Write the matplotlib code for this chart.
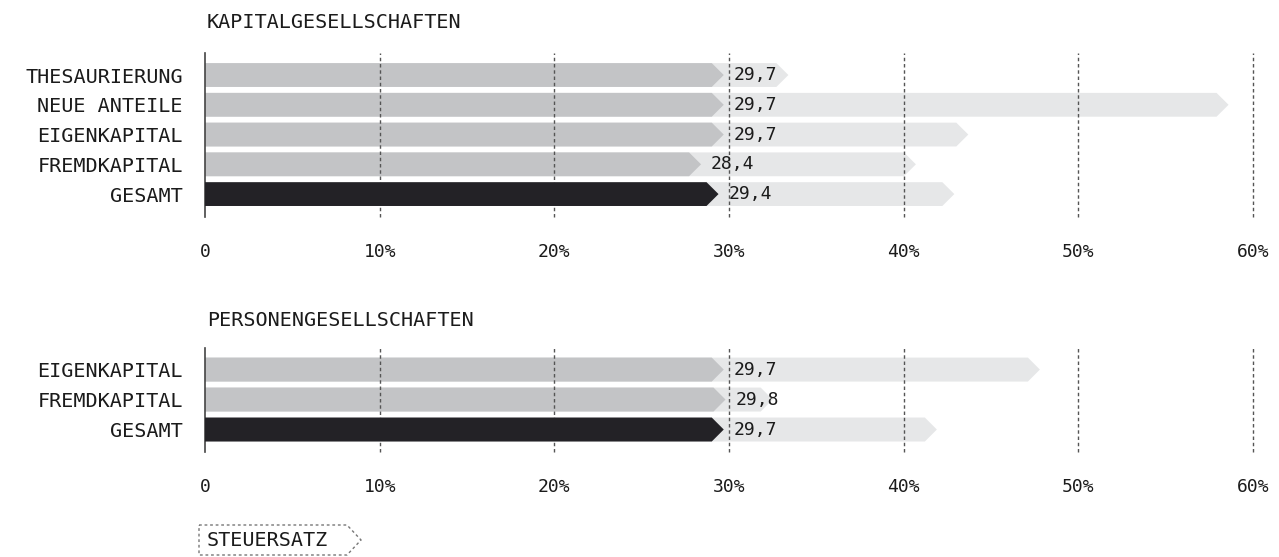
import numpy as np
import matplotlib
matplotlib.use("Agg")
import matplotlib.pyplot as plt
from matplotlib.patches import Polygon

plt.rcParams['font.family'] = ['DejaVu Sans Mono', 'DejaVu Sans']

# Kapitalgesellschaften
k_labels = ["THESAURIERUNG", "NEUE ANTEILE", "EIGENKAPITAL", "FREMDKAPITAL", "GESAMT"]
k_satz = [29.7, 29.7, 29.7, 28.4, 29.4]
k_hinten = [33.4, 58.6, 43.7, 40.7, 42.9]

# Personengesellschaften
p_labels = ["EIGENKAPITAL", "FREMDKAPITAL", "GESAMT"]
p_satz = [29.7, 29.8, 29.7]
p_hinten = [47.8, 32.5, 41.9]

ticks = [0, 10, 20, 30, 40, 50, 60]
tick_labels = ["0", "10%", "20%", "30%", "40%", "50%", "60%"]

W, H = 1279, 557
GRAU = "#c3c4c6"
HELL = "#e6e7e8"
SCHWARZ = "#232226"
TEXT = "#1b1b1b"

fig = plt.figure(figsize=(W / 100, H / 100), dpi=100)


def px_axes(x0, x1, ytop, ybot):
    return fig.add_axes([x0 / W, 1 - ybot / H, (x1 - x0) / W, (ybot - ytop) / H])


def pfeil(ax, y, wert, farbe, z, h=0.4):
    # Balken mit Pfeilspitze, Spitze liegt auf dem Wert
    spitze = 12 / 17.47
    pts = [(0, y - h), (wert - spitze, y - h), (wert, y), (wert - spitze, y + h), (0, y + h)]
    ax.add_patch(Polygon(pts, closed=True, facecolor=farbe, edgecolor="none", zorder=z))


def panel(ax, labels, satz, hinten, top_pad, bot_pad):
    n = len(labels)
    y = np.arange(n)
    for i in range(n):
        pfeil(ax, y[i], hinten[i], HELL, 1)
        gesamt = labels[i] == "GESAMT"
        pfeil(ax, y[i], satz[i], SCHWARZ if gesamt else GRAU, 4 if gesamt else 2)
        ax.annotate(f"{satz[i]:.1f}".replace(".", ","), (satz[i], y[i]),
                    xytext=(7, 0), textcoords="offset points",
                    va="center", ha="left", fontsize=13, color=TEXT, zorder=5)
    for t in ticks[1:]:
        ax.axvline(t, color="#555555", lw=1, ls=(0, (2.5, 2)), zorder=3, clip_on=False)
    ax.set_xlim(0, 60)
    ax.set_ylim(n - 1 + bot_pad, -top_pad)
    ax.set_yticks(y)
    ax.set_yticklabels(labels, fontsize=14.5, color=TEXT)
    ax.set_xticks(ticks)
    ax.set_xticklabels(tick_labels, fontsize=13, color=TEXT)
    ax.tick_params(axis="y", length=0, pad=16)
    ax.tick_params(axis="x", length=0, pad=19)
    for s in ["top", "right", "bottom"]:
        ax.spines[s].set_visible(False)
    ax.spines["left"].set_color("#444444")
    ax.spines["left"].set_linewidth(1.2)
    return ax


ax1 = px_axes(205, 1253, 53, 217)
panel(ax1, k_labels, k_satz, k_hinten, 0.74, 0.77)
ax2 = px_axes(205, 1253, 348, 452)
panel(ax2, p_labels, p_satz, p_hinten, 0.72, 0.75)

fig.text(207 / W, 1 - 22 / H, "KAPITALGESELLSCHAFTEN", fontsize=14.5, color=TEXT,
         ha="left", va="center")
fig.text(207 / W, 1 - 320 / H, "PERSONENGESELLSCHAFTEN", fontsize=14.5, color=TEXT,
         ha="left", va="center")

# Legende
lx = [199, 347, 361, 347, 199]
ly = [525, 525, 540, 555, 555]
fig.add_artist(Polygon([(a / W, 1 - b / H) for a, b in zip(lx, ly)], closed=True,
                       transform=fig.transFigure, facecolor="none",
                       edgecolor="#777777", lw=1, ls=(0, (2, 2))))
fig.text(207 / W, 1 - 541 / H, "STEUERSATZ", fontsize=14.5, color=TEXT,
         ha="left", va="center")

fig.savefig("out.png", dpi=100)
